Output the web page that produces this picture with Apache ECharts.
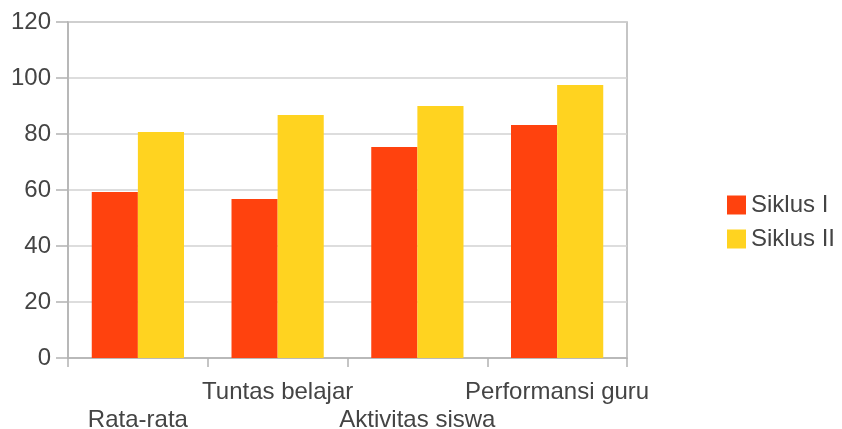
<!DOCTYPE html>
<html>
<head>
<meta charset="utf-8">
<script src="https://cdn.jsdelivr.net/npm/echarts@6/dist/echarts.min.js"></script>
<style>
  html, body { margin: 0; padding: 0; background: #fff; }
  #chart { width: 842px; height: 429px; }
</style>
</head>
<body>
<div id="chart"></div>
<script>
// Categories and series values
const categories = ['Rata-rata', 'Tuntas belajar', 'Aktivitas siswa', 'Performansi guru'];
const siklus1 = [59.3, 56.8, 75.4, 83.2];
const siklus2 = [80.7, 86.8, 90.0, 97.5];
const seriesNames = ['Siklus I', 'Siklus II'];

const FONT = 'Liberation Sans';
const TEXT = '#444444';

const chart = echarts.init(document.getElementById('chart'), null, { renderer: 'canvas' });

chart.setOption({
  animation: false,
  backgroundColor: '#ffffff',
  grid: {
    left: 68, right: 215, top: 22, bottom: 71,
    show: true,
    borderColor: '#b3b3b3',
    borderWidth: 1.5,
    containLabel: false,
    outerBoundsMode: 'none'
  },
  legend: {
    orient: 'vertical',
    left: 722,
    top: 188,
    itemWidth: 19,
    itemHeight: 19,
    itemGap: 10,
    icon: 'rect',
    data: seriesNames,
    textStyle: { fontFamily: FONT, fontSize: 24, color: TEXT, lineHeight: 21 }
  },
  xAxis: {
    type: 'category',
    data: categories,
    axisLine: { show: true, lineStyle: { color: '#b3b3b3', width: 1.5 } },
    axisTick: { show: true, length: 9, alignWithLabel: false, lineStyle: { color: '#b3b3b3', width: 1.5 } },
    axisLabel: {
      interval: 0,
      margin: 20,
      fontFamily: FONT,
      fontSize: 24,
      lineHeight: 28,
      color: TEXT,
      formatter: (v, i) => (i % 2 === 0 ? '\n' + v : v)
    },
    splitLine: { show: false }
  },
  yAxis: {
    type: 'value',
    min: 0,
    max: 120,
    interval: 20,
    axisLine: { show: true, lineStyle: { color: '#b3b3b3', width: 1.5 } },
    axisTick: { show: true, length: 12, lineStyle: { color: '#b3b3b3', width: 1.5 } },
    axisLabel: { margin: 17, fontFamily: FONT, fontSize: 24, color: TEXT },
    splitLine: { show: true, lineStyle: { color: '#d2d2d2', width: 1.5 } }
  },
  series: [
    {
      name: seriesNames[0],
      type: 'bar',
      data: siklus1,
      barGap: '0%',
      barCategoryGap: '34%',
      itemStyle: { color: '#ff420e' }
    },
    {
      name: seriesNames[1],
      type: 'bar',
      data: siklus2,
      barGap: '0%',
      barCategoryGap: '34%',
      itemStyle: { color: '#ffd320' }
    }
  ]
});
</script>
</body>
</html>
